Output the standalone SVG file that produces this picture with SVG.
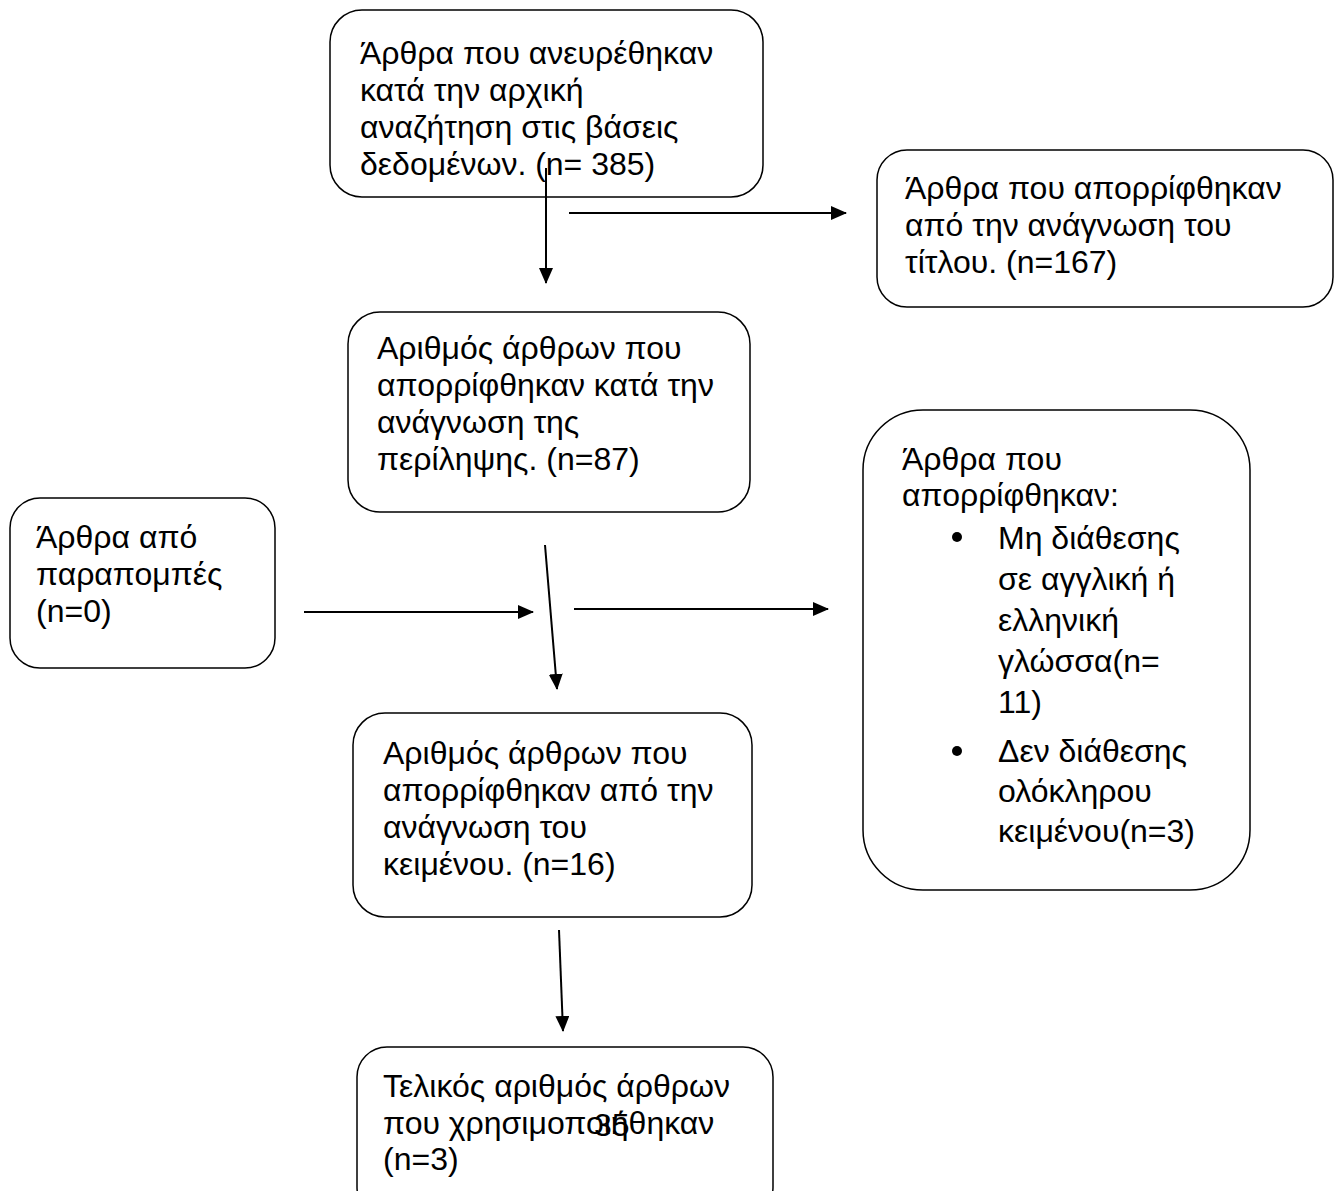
<svg xmlns="http://www.w3.org/2000/svg" width="1339" height="1191" viewBox="0 0 1339 1191">
<defs>
<style>
.box{fill:#fff;stroke:#000;stroke-width:1.5}
.t{font-family:"Liberation Sans",Arial,sans-serif;font-size:32px;fill:#000}
.c{stroke:#000;stroke-width:2;fill:none;marker-end:url(#ah)}
</style>
<marker id="ah" markerWidth="16" markerHeight="14" refX="15" refY="7" orient="auto" markerUnits="userSpaceOnUse" viewBox="0 0 16 14"><path d="M0,0 L16,7 L0,14 Z" fill="#000"/></marker>
</defs>
<rect width="1339" height="1191" fill="#fff"/>
<g id="n1">
<rect class="box" x="330" y="10" width="433" height="187" rx="32"/>
<text class="t"><tspan x="360" y="64">Άρθρα που ανευρέθηκαν</tspan><tspan x="360" y="101">κατά την αρχική</tspan><tspan x="360" y="138">αναζήτηση στις βάσεις</tspan><tspan x="360" y="175">δεδομένων. (n= 385)</tspan></text>
</g>
<g id="n2">
<rect class="box" x="877" y="150" width="456" height="157" rx="30"/>
<text class="t"><tspan x="905" y="199">Άρθρα που απορρίφθηκαν</tspan><tspan x="905" y="236">από την ανάγνωση του</tspan><tspan x="905" y="273">τίτλου. (n=167)</tspan></text>
</g>
<g id="n3">
<rect class="box" x="348" y="312" width="402" height="200" rx="32"/>
<text class="t"><tspan x="377" y="359">Αριθμός άρθρων που</tspan><tspan x="377" y="396">απορρίφθηκαν κατά την</tspan><tspan x="377" y="433">ανάγνωση της</tspan><tspan x="377" y="470">περίληψης. (n=87)</tspan></text>
</g>
<g id="n4">
<rect class="box" x="10" y="498" width="265" height="170" rx="30"/>
<text class="t"><tspan x="36" y="548">Άρθρα από</tspan><tspan x="36" y="585">παραπομπές</tspan><tspan x="36" y="622">(n=0)</tspan></text>
</g>
<g id="n5">
<rect class="box" x="863" y="410" width="387" height="480" rx="60"/>
<text class="t"><tspan x="902" y="470">Άρθρα που</tspan><tspan x="902" y="506">απορρίφθηκαν:</tspan></text>
<circle cx="957" cy="537" r="5"/>
<circle cx="957" cy="751" r="5"/>
<text class="t"><tspan x="998" y="549">Μη διάθεσης</tspan><tspan x="998" y="590">σε αγγλική ή</tspan><tspan x="998" y="631">ελληνική</tspan><tspan x="998" y="672">γλώσσα(n=</tspan><tspan x="998" y="713">11)</tspan><tspan x="998" y="762">Δεν διάθεσης</tspan><tspan x="998" y="802">ολόκληρου</tspan><tspan x="998" y="842">κειμένου(n=3)</tspan></text>
</g>
<g id="n6">
<rect class="box" x="353" y="713" width="399" height="204" rx="32"/>
<text class="t"><tspan x="383" y="764">Αριθμός άρθρων που</tspan><tspan x="383" y="801">απορρίφθηκαν από την</tspan><tspan x="383" y="838">ανάγνωση του</tspan><tspan x="383" y="875">κειμένου. (n=16)</tspan></text>
</g>
<g id="n7">
<rect class="box" x="357" y="1047" width="416" height="170" rx="30"/>
<text class="t"><tspan x="383" y="1097">Τελικός αριθμός άρθρων</tspan><tspan x="383" y="1134">που χρησιμοποιήθηκαν</tspan><tspan x="383" y="1170">(n=3)</tspan></text>
<text class="t" x="594" y="1136">35</text>
</g>
<g id="connectors">
<line class="c" x1="546" y1="168" x2="546" y2="283"/>
<line class="c" x1="569" y1="213" x2="846" y2="213"/>
<line class="c" x1="304" y1="612" x2="533" y2="612"/>
<line class="c" x1="574" y1="609" x2="828" y2="609"/>
<line class="c" x1="545" y1="545" x2="557" y2="689"/>
<line class="c" x1="559" y1="930" x2="563" y2="1031"/>
</g>
</svg>
